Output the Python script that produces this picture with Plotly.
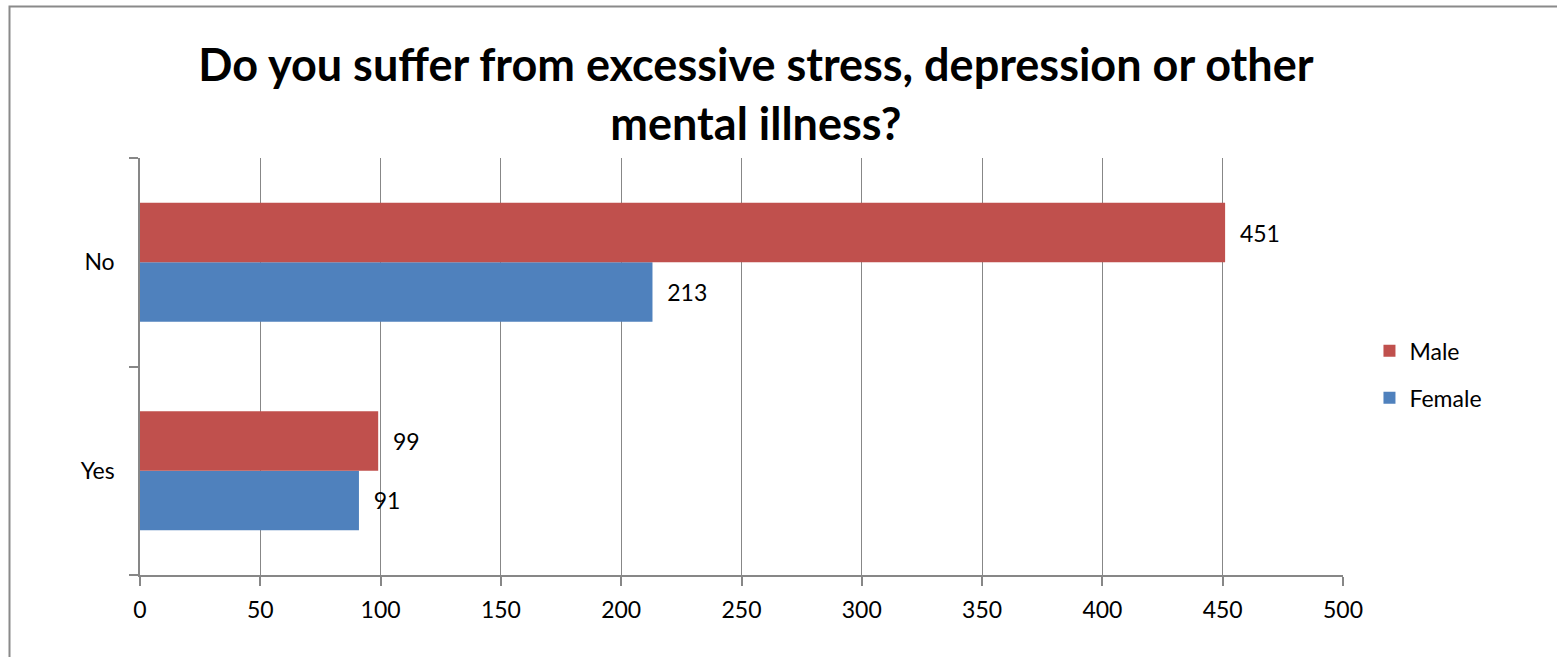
import plotly.graph_objects as go

categories = ["Yes", "No"]
male = [99, 451]
female = [91, 213]
x_ticks = [0, 50, 100, 150, 200, 250, 300, 350, 400, 450, 500]

title_text = "Do you suffer from excessive stress, depression or other<br>mental illness?"

FONT = "Lato, Carlito, Calibri, 'Open Sans', sans-serif"
GRID = "#878787"
PAD = "\u00a0\u00a0"

fig = go.Figure()
fig.add_trace(go.Bar(
    y=categories, x=female, orientation="h", name="Female",
    marker=dict(color="#4F81BD", line=dict(width=0)),
    text=[PAD + str(v) for v in female], textposition="outside",
    textfont=dict(family=FONT, size=23, color="#000000"),
    cliponaxis=False, legendgroup="f", legendrank=2,
))
fig.add_trace(go.Bar(
    y=categories, x=male, orientation="h", name="Male",
    marker=dict(color="#C0504D", line=dict(width=0)),
    text=[PAD + str(v) for v in male], textposition="outside",
    textfont=dict(family=FONT, size=23, color="#000000"),
    cliponaxis=False, legendgroup="m", legendrank=1,
))

fig.update_layout(
    width=1557, height=657,
    margin=dict(l=140, r=214, t=158, b=82, autoexpand=False),
    paper_bgcolor="white", plot_bgcolor="white",
    barmode="group", bargap=0.43, bargroupgap=0,
    font=dict(family=FONT, size=23, color="#000000"),
    title=dict(
        text=title_text, x=0.4855, xanchor="center", xref="container",
        y=0.8764, yanchor="top", yref="container",
        font=dict(family=FONT, size=45, color="#000000", weight="bold"),
    ),
    xaxis=dict(
        range=[0, 500], tickvals=x_ticks, ticktext=[str(t) for t in x_ticks],
        showgrid=True, gridcolor=GRID, gridwidth=1.3,
        showline=True, linecolor=GRID, linewidth=1.5,
        ticks="outside", ticklen=9, tickcolor=GRID, tickwidth=1.5,
        zeroline=False, ticklabelstandoff=5,
        tickfont=dict(family=FONT, size=23, color="#000000"),
        fixedrange=True,
    ),
    yaxis=dict(
        type="category", categoryorder="array", categoryarray=categories,
        range=[-0.5, 1.5], showgrid=False,
        showline=True, linecolor=GRID, linewidth=1.5,
        ticks="outside", ticklen=9, tickcolor=GRID, tickwidth=1.5,
        tickson="boundaries", ticklabelstandoff=19,
        tickfont=dict(family=FONT, size=23, color="#000000"),
        fixedrange=True,
    ),
    legend=dict(
        x=1.022, xanchor="left", y=0.589, yanchor="top",
        traceorder="grouped", tracegroupgap=14,
        font=dict(family=FONT, size=23, color="#000000"),
        bgcolor="rgba(0,0,0,0)",
    ),
    showlegend=True,
    shapes=[dict(
        type="rect", xref="paper", yref="paper",
        x0=(9.5 - 140) / 1203, x1=(1570 - 140) / 1203,
        y0=(575 - 670) / 417, y1=(575 - 6.5) / 417,
        line=dict(color="#8a8a8a", width=2), fillcolor="rgba(0,0,0,0)",
        layer="below",
    )],
)

fig.write_html(
    "out.html",
    config={"displayModeBar": False},
    post_script=(
        "document.body.style.margin='0';"
        "document.documentElement.style.overflow='hidden';"
        "document.body.style.overflow='hidden';"
    ),
)
